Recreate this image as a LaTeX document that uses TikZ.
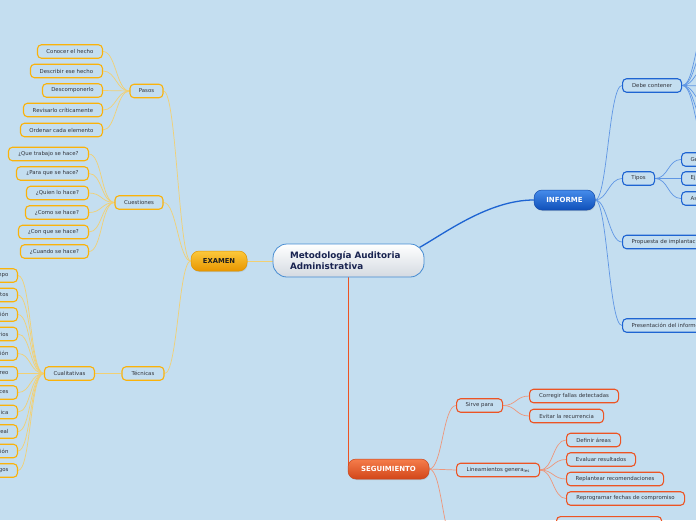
\documentclass[tikz,border=0pt]{standalone}
\usepackage{fontspec}
\setmainfont{DejaVu Sans}
\usetikzlibrary{calc,shadows}
\definecolor{bgc}{RGB}{196,222,240}
\definecolor{ybord}{RGB}{250,178,10}
\definecolor{bbord}{RGB}{30,100,210}
\definecolor{rbord}{RGB}{236,84,36}
\definecolor{ylin}{RGB}{242,208,115}
\definecolor{blin}{RGB}{95,150,228}
\definecolor{rlin}{RGB}{238,150,122}
\definecolor{txt}{RGB}{50,52,60}
\definecolor{navy}{RGB}{25,35,80}
\pgfdeclarelayer{bgl}
\pgfdeclarelayer{lines}
\pgfsetlayers{bgl,lines,main}
\tikzset{
  box/.style={rounded corners=4pt, line width=1.1pt, inner sep=0pt, minimum height=13.5pt,
    text=txt, font=\fontsize{5.4}{6.5}\selectfont},
  ybox/.style={box, draw=ybord},
  bbox/.style={box, draw=bbord},
  rbox/.style={box, draw=rbord},
  mainnode/.style={rounded corners=8pt, inner sep=0pt, minimum height=20pt,
    font=\fontsize{7}{8}\selectfont\bfseries,
    drop shadow={opacity=0.25, shadow xshift=0.6pt, shadow yshift=-1pt}},
  ylink/.style={draw=ylin, line width=0.7pt},
  blink/.style={draw=blin, line width=0.7pt},
  rlink/.style={draw=rlin, line width=0.7pt},
  mainy/.style={draw=ylin, line width=1pt},
  mainb/.style={draw=bbord, line width=1.3pt},
  mainr/.style={draw=rbord, line width=1.3pt},
}
\begin{document}
\begin{tikzpicture}[x=1pt,y=-1pt]
\useasboundingbox (0,0) rectangle (696,520);
\begin{pgfonlayer}{bgl}
\fill[bgc] (0,0) rectangle (696,520);
\end{pgfonlayer}

% central
\node[rounded corners=14pt, draw={rgb,255:red,70;green,140;blue,210}, line width=0.8pt,
  top color=white, bottom color={rgb,255:red,212;green,218;blue,225},
  minimum width=151pt, minimum height=33pt, text width=117pt, inner xsep=17pt, inner ysep=0pt,
  align=left, text=navy, font=\fontsize{8.8}{11}\selectfont\bfseries]
  (central) at (348.5,260.5) {Metodología Auditoria\\Administrativa};

% main branches
\node[mainnode, minimum width=56pt, draw={rgb,255:red,225;green,150;blue,0}, line width=0.5pt,
  top color={rgb,255:red,252;green,200;blue,60}, bottom color={rgb,255:red,232;green,150;blue,0},
  text={rgb,255:red,30;green,30;blue,30}, font=\fontsize{6.8}{8}\selectfont\bfseries]
  (examen) at (219,261) {EXAMEN};
\node[mainnode, minimum width=61pt, draw={rgb,255:red,20;green,75;blue,170}, line width=0.5pt,
  top color={rgb,255:red,70;green,140;blue,235}, bottom color={rgb,255:red,15;green,80;blue,185},
  text=white] (informe) at (564.5,200) {INFORME};
\node[mainnode, minimum width=81pt, draw={rgb,255:red,200;green,70;blue,30}, line width=0.5pt,
  top color={rgb,255:red,245;green,125;blue,75}, bottom color={rgb,255:red,210;green,70;blue,25},
  text=white] (seg) at (388.5,469) {SEGUIMIENTO};

% EXAMEN subtree
\node[ybox, minimum width=33pt] (pasos) at (146.5,91) {Pasos};
\node[ybox, minimum width=48pt] (cuest) at (139,202.5) {Cuestiones};
\node[ybox, minimum width=42pt] (tecn) at (143,373.5) {Técnicas};

\node[ybox, anchor=east, minimum width=65pt] (p1) at (103,51.5) {Conocer el hecho};
\node[ybox, anchor=east, minimum width=72pt] (p2) at (103,71) {Describir ese hecho};
\node[ybox, anchor=east, minimum width=60pt] (p3) at (103,90.5) {Descomponerlo};
\node[ybox, anchor=east, minimum width=79pt] (p4) at (103,110) {Revisarlo críticamente};
\node[ybox, anchor=east, minimum width=82pt] (p5) at (103,130) {Ordenar cada elemento};

\node[ybox, anchor=east, minimum width=80pt] (q1) at (89,154) {¿Que trabajo se hace?};
\node[ybox, anchor=east, minimum width=72pt] (q2) at (89,173.5) {¿Para que se hace?};
\node[ybox, anchor=east, minimum width=62pt] (q3) at (89,193) {¿Quien lo hace?};
\node[ybox, anchor=east, minimum width=63pt] (q4) at (89,212.5) {¿Como se hace?};
\node[ybox, anchor=east, minimum width=70pt] (q5) at (89,232) {¿Con que se hace?};
\node[ybox, anchor=east, minimum width=68pt] (q6) at (89,251.5) {¿Cuando se hace?};

\node[ybox, anchor=east, minimum width=50pt] (cual) at (95,373.5) {Cualitativas};

\foreach \n/\y/\t in {c1/275.5/mpo, c2/295/tos, c3/314.5/ción, c4/334/rios, c5/353.5/ción,
  c6/373.5/creo, c7/392.5/ces, c8/412/nica, c9/431.5/real, c10/451/ción, c11/470.5/gos}
  \node[ybox, anchor=east, text width=40pt, align=right, inner xsep=9pt] (\n) at (18,\y) {\t};

% INFORME subtree
\node[bbox, anchor=west, minimum width=59pt] (debe) at (622,85.5) {Debe contener};
\node[bbox, anchor=west, minimum width=32pt] (tipos) at (622,178.5) {Tipos};
\node[bbox, anchor=west, text width=110pt, align=left, inner xsep=9pt] (prop) at (622,242) {Propuesta de implantación};
\node[bbox, anchor=west, text width=110pt, align=left, inner xsep=9pt] (pres) at (622,325.5) {Presentación del informe};
\node[bbox, anchor=west, text width=40pt, align=left, inner xsep=9pt] (t1) at (681,159.5) {Ge};
\node[bbox, anchor=west, text width=40pt, align=left, inner xsep=9pt] (t2) at (681,178.5) {Ej};
\node[bbox, anchor=west, text width=40pt, align=left, inner xsep=9pt] (t3) at (681,198.5) {As};
\foreach \n/\y in {d1/28, d2/47, d3/67, d4/86, d5/105, d6/125, d7/144}
  \coordinate (\n) at (708,\y);

% SEGUIMIENTO subtree
\node[rbox, anchor=west, minimum width=46pt] (sirve) at (456,405.5) {Sirve para};
\node[rbox, anchor=west, minimum width=83pt] (linea) at (456,470) {Lineamientos genera\raisebox{-1.2pt}{\fontsize{4}{4}\selectfont les}};
\node[rbox, anchor=west, minimum width=89pt] (s1) at (529,396) {Corregir fallas detectadas};
\node[rbox, anchor=west, minimum width=74pt] (s2) at (529,416) {Evitar la recurrencia};
\node[rbox, anchor=west, minimum width=54pt] (l1) at (566,440) {Definir áreas};
\node[rbox, anchor=west, minimum width=69pt] (l2) at (566,459.5) {Evaluar resultados};
\node[rbox, anchor=west, minimum width=97pt] (l3) at (566,479) {Replantear recomendaciones};
\node[rbox, anchor=west, minimum width=118pt] (l4) at (566,498.5) {Reprogramar fechas de compromiso};
\node[rbox, anchor=north west, minimum width=105pt, minimum height=14pt] (sx) at (556,516) {};
\coordinate (hid) at (456,545);

% connectors
\begin{pgfonlayer}{lines}
\draw[mainy] (examen.east) -- (central.west |- examen.east);
\draw[mainb] ($(central.east)+(-5,-13)$) .. controls +(25,-14) and +(-45,0) .. (informe.west);
\draw[mainr] ($(central.south -| seg.west)+(1,0)$) -- ($(seg.west)+(1,0)$);

\foreach \n in {pasos,cuest,tecn}
  \draw[ylink] (examen.west) .. controls +(-12,0) and +(13,0) .. (\n.east);
\foreach \n in {p1,p2,p3,p4,p5}
  \draw[ylink] (pasos.west) .. controls +(-13,0) and +(13,0) .. (\n.east);
\foreach \n in {q1,q2,q3,q4,q5,q6}
  \draw[ylink] (cuest.west) .. controls +(-13,0) and +(13,0) .. (\n.east);
\draw[ylink] (tecn.west) -- (cual.east);
\foreach \n in {c1,c2,c3,c4,c5,c6,c7,c8,c9,c10,c11}
  \draw[ylink] (cual.west) .. controls +(-14,0) and +(13,0) .. (\n.east);

\foreach \n in {debe,tipos,prop,pres}
  \draw[blink] (informe.east) .. controls +(12,0) and +(-13,0) .. (\n.west);
\foreach \n in {t1,t2,t3}
  \draw[blink] (tipos.east) .. controls +(13,0) and +(-13,0) .. (\n.west);
\foreach \n in {d1,d2,d3,d4,d5,d6,d7}
  \draw[blink] (debe.east) .. controls +(13,0) and +(-13,0) .. (\n);

\foreach \n in {sirve,linea,hid}
  \draw[rlink] (seg.east) .. controls +(13,0) and +(-13,0) .. (\n.west);
\foreach \n in {s1,s2}
  \draw[rlink] (sirve.east) .. controls +(13,0) and +(-13,0) .. (\n.west);
\foreach \n in {l1,l2,l3,l4}
  \draw[rlink] (linea.east) .. controls +(13,0) and +(-13,0) .. (\n.west);
\end{pgfonlayer}
\end{tikzpicture}
\end{document}
